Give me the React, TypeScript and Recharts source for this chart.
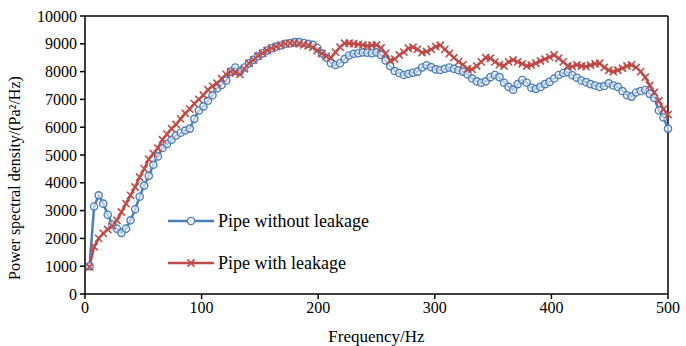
import React from 'react';
import { LineChart, Line, XAxis, YAxis, ReferenceLine, Legend } from 'recharts';

const frequencies: number[] = Array.from({ length: 128 }, (_, i) => +(((i + 1) * 500) / 128).toFixed(3));

const withoutLeakage: number[] = [
  1000, 3150, 3550, 3250, 2850, 2500, 2350, 2200, 2350, 2650,
  3050, 3500, 3900, 4250, 4650, 4950, 5250, 5400, 5550, 5700,
  5800, 5880, 5950, 6300, 6600, 6750, 6950, 7150, 7400, 7520,
  7680, 8000, 8150, 8000, 8150, 8300, 8420, 8550, 8660, 8760,
  8840, 8900, 8940, 9000, 9020, 9060, 9060, 9030, 9000, 8960,
  8850, 8650, 8500, 8300, 8240, 8300, 8450, 8580, 8640, 8660,
  8690, 8680, 8660, 8690, 8600, 8400, 8200, 8020, 7950, 7880,
  7920, 7960, 8000, 8150, 8230, 8160, 8080, 8060, 8100, 8150,
  8100, 8050, 8000, 7900, 7750, 7650, 7600, 7650, 7800, 7880,
  7800, 7600, 7450, 7350, 7550, 7700, 7600, 7420, 7380, 7450,
  7550, 7630, 7750, 7880, 7950, 7980, 7870, 7780, 7680, 7620,
  7550, 7500, 7450, 7480, 7580, 7500, 7450, 7300, 7150, 7100,
  7250, 7300, 7340, 7200, 7050, 6600, 6350, 5950,
];

const withLeakage: number[] = [
  970, 1700, 2000, 2180, 2320, 2450, 2650, 2950, 3250, 3550,
  3850, 4200, 4500, 4850, 5050, 5250, 5550, 5750, 5950, 6100,
  6300, 6500, 6650, 6850, 7000, 7150, 7350, 7480, 7580, 7750,
  7900, 8000, 7950, 7900, 8100, 8300, 8420, 8560, 8660, 8760,
  8840, 8900, 8950, 9000, 9020, 9020, 9000, 8960, 8930, 8870,
  8760, 8650, 8550, 8500, 8700, 8880, 9020, 9020, 9000, 8980,
  8960, 8920, 8950, 8960, 8850, 8650, 8400, 8450, 8600, 8700,
  8840, 8880, 8800, 8680, 8720, 8800, 8900, 8950, 8800, 8650,
  8500, 8350, 8250, 8100, 8080, 8200, 8350, 8500, 8480, 8350,
  8250, 8200, 8350, 8420, 8350, 8280, 8200, 8230, 8300, 8380,
  8450, 8520, 8600, 8480, 8350, 8200, 8180, 8240, 8200, 8180,
  8230, 8280, 8300, 8150, 8050, 8000, 8050, 8120, 8200, 8240,
  8150, 8000, 7800, 7500, 7250, 6950, 6650, 6450,
];

const xTicks = [0, 100, 200, 300, 400, 500];
const yTicks = [0, 1000, 2000, 3000, 4000, 5000, 6000, 7000, 8000, 9000, 10000];
const seriesNames = ['Pipe without leakage', 'Pipe with leakage'];

const data = frequencies.map((f, i) => ({ f, a: withoutLeakage[i], b: withLeakage[i] }));

const BLUE = '#4a7ebb';
const RED = '#be4b48';
const FONT = '"Times New Roman", "Liberation Serif", "DejaVu Serif", serif';

const CircleDot = (props: any) => {
  const { cx, cy, index } = props;
  if (cx == null || cy == null) return <g key={index} />;
  return <circle key={index} cx={cx} cy={cy} r={3.6} fill="#ffffff" fillOpacity={0.6} stroke={BLUE} strokeWidth={1.4} />;
};

const CrossDot = (props: any) => {
  const { cx, cy, index } = props;
  if (cx == null || cy == null) return <g key={index} />;
  const s = 3.6;
  return (
    <path
      key={index}
      d={`M${cx - s},${cy - s}L${cx + s},${cy + s}M${cx - s},${cy + s}L${cx + s},${cy - s}`}
      stroke={RED}
      strokeWidth={1.6}
      fill="none"
    />
  );
};

const LegendContent = () => (
  <div style={{ fontFamily: FONT, fontSize: 18, color: '#000' }}>
    {[0, 1].map((k) => (
      <div key={k} style={{ display: 'flex', alignItems: 'center', height: 22, marginBottom: k === 0 ? 20 : 0 }}>
        <svg width={48} height={12} style={{ marginRight: 2 }}>
          <line x1={0} y1={6} x2={46} y2={6} stroke={k === 0 ? BLUE : RED} strokeWidth={2.5} />
          {k === 0 ? (
            <circle cx={23} cy={6} r={3.6} fill="#fff" stroke={BLUE} strokeWidth={1.4} />
          ) : (
            <path d="M19.4,2.4L26.6,9.6M19.4,9.6L26.6,2.4" stroke={RED} strokeWidth={1.6} />
          )}
        </svg>
        <span>{seriesNames[k]}</span>
      </div>
    ))}
  </div>
);

export default function App() {
  return (
    <div style={{ position: 'absolute', left: 0, top: 0, background: '#fff' }}>
      <LineChart width={686} height={346} data={data} margin={{ top: 16, right: 18, bottom: 22, left: 25 }}>
        <XAxis
          type="number"
          dataKey="f"
          domain={[0, 500]}
          ticks={xTicks}
          tickSize={5}
          tickMargin={3}
          height={30}
          stroke="#000"
          strokeWidth={1.5}
          tick={{ fill: '#000', fontFamily: FONT, fontSize: 16 }}
          label={{ value: 'Frequency/Hz', position: 'insideBottom', offset: -18, fill: '#000', fontFamily: FONT, fontSize: 17 }}
        />
        <YAxis
          type="number"
          domain={[0, 10000]}
          ticks={yTicks}
          interval={0}
          tickSize={5}
          tickMargin={3}
          width={60}
          stroke="#000"
          strokeWidth={1.5}
          tick={{ fill: '#000', fontFamily: FONT, fontSize: 16 }}
          label={{
            value: 'Power spectral density/(Pa²/Hz)',
            angle: -90,
            position: 'insideLeft',
            dx: -16,
            dy: 125,
            fill: '#000',
            fontFamily: FONT,
            fontSize: 16,
          }}
        />
        <ReferenceLine y={10000} stroke="#000" strokeWidth={1.5} />
        <ReferenceLine x={500} stroke="#000" strokeWidth={1.5} />
        <Line
          type="linear"
          dataKey="a"
          name={seriesNames[0]}
          stroke={BLUE}
          strokeWidth={2.5}
          dot={CircleDot}
          isAnimationActive={false}
        />
        <Line
          type="linear"
          dataKey="b"
          name={seriesNames[1]}
          stroke={RED}
          strokeWidth={2.5}
          dot={CrossDot}
          isAnimationActive={false}
        />
        <Legend
          layout="vertical"
          align="center"
          verticalAlign="middle"
          wrapperStyle={{ left: 168, top: 210, width: 260, height: 70 }}
          content={LegendContent}
        />
      </LineChart>
    </div>
  );
}
